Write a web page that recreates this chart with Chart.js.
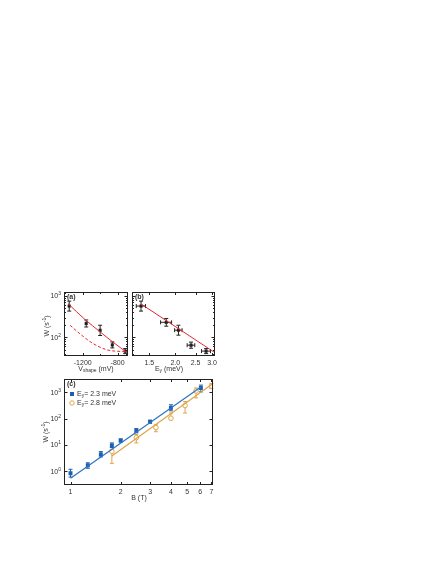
<!DOCTYPE html>
<html>
<head>
<meta charset="utf-8">
<script src="https://cdn.jsdelivr.net/npm/chart.js@4"></script>
<style>
  body { margin: 0; background: #fff; }
  #wrap { position: relative; width: 436px; height: 564px; }
  canvas { position: absolute; left: 0; top: 0; }
</style>
</head>
<body>
<div id="wrap">
  <canvas id="chart-a" width="436" height="564"></canvas>
  <canvas id="chart-b" width="436" height="564"></canvas>
  <canvas id="chart-c" width="436" height="564"></canvas>
</div>
<script>
// panel (a): rate against shape voltage
const vShape = [-1355, -1160, -1000, -860, -712]
const wA = [570, 215, 147, 65, 46]
const wALow = [430, 177, 110, 55, 40]
const wAHigh = [750, 262, 195, 77, 53]
const fitV = [-1367, -1175, -1000, -860, -680]
const fitVW = [650, 270, 135, 78, 41]
const dashV = [-1345, -1230, -1080, -930, -830, -680]
const dashVW = [195, 120, 70, 50, 46, 45]
const vTicks = [-1400, -1200, -1000, -800]
const vLabelled = [-1200, -800]

// panel (b): rate against Ey
const eY = [1.37, 1.81, 2.07, 2.38, 2.81]
const eYLow = [1.30, 1.70, 1.985, 2.28, 2.67]
const eYHigh = [1.44, 1.92, 2.155, 2.48, 2.95]
const wB = [570, 230, 148, 64, 46]
const wBLow = [430, 185, 112, 54, 40]
const wBHigh = [750, 285, 195, 76, 53]
const fitE = [1.37, 3.08]
const fitEW = [640, 43]
const eTicks = [1.5, 2.0, 2.5, 3.0]

// shared W ticks for (a) and (b)
const wTicksAB = [40, 50, 60, 70, 80, 90, 100, 200, 300, 400, 500, 600, 700, 800, 900, 1000]
const wDecadesAB = [100, 1000]
const wExponentsAB = ['2', '3']

// panel (c): rate against B
const b23 = [1.0, 1.27, 1.52, 1.77, 2.0, 2.48, 3.0, 4.0, 6.05]
const w23 = [0.84, 1.68, 4.4, 9.6, 14.8, 35, 77, 260, 1480]
const w23Low = [0.6, 1.3, 3.5, 8, 13, 29, 68, 200, 1050]
const w23High = [1.19, 2.1, 5.6, 12, 17, 42, 87, 340, 1900]
const b28 = [1.77, 2.48, 3.25, 4.0, 4.86, 5.66, 7.0]
const w28 = [5.7, 19, 46, 105, 316, 1140, 1760]
const w28Low = [2.0, 12, 32, 92, 165, 620, 1400]
const w28High = [6.8, 25, 59, 165, 450, 1480, 2200]
const fit23B = [1.0, 6.05]
const fit23W = [0.54, 1600]
const fit28B = [1.77, 7.15]
const fit28W = [3.8, 2200]
const bTicks = [1, 2, 3, 4, 5, 6, 7]
const wTicksC = [1, 10, 100, 1000]
const wExponentsC = ['0', '1', '2', '3']

const RED = '#e3262d'
const BLUE = '#1d5fae'
const BLUE_LINE = '#2b74c2'
const ORANGE = '#e0a449'
const INK = '#222'
const FAMILY = 'Liberation Sans, Arial, sans-serif'
const tickFont = { family: FAMILY, size: 7 }

function areaPadding (area) {
  return { left: area.left - 20, top: area.top, right: 436 - area.right, bottom: 564 - area.bottom - 12 }
}

function drawRich (ctx, parts, x, y, rotate, align) {
  ctx.save()
  ctx.translate(x, y)
  if (rotate) ctx.rotate(-Math.PI / 2)
  ctx.textBaseline = 'middle'
  ctx.textAlign = 'left'
  ctx.fillStyle = '#333'
  const fontOf = (p) => (p.bold ? 'bold ' : '') + ((p.sub || p.sup) ? 5 : 7) + 'px ' + FAMILY
  let total = 0
  for (const p of parts) { ctx.font = fontOf(p); total += ctx.measureText(p.t).width }
  let cx = align === 'left' ? 0 : align === 'right' ? -total : -total / 2
  for (const p of parts) {
    ctx.font = fontOf(p)
    ctx.fillText(p.t, cx, p.sub ? 2 : p.sup ? -2.5 : 0)
    cx += ctx.measureText(p.t).width
  }
  ctx.restore()
}

const framePlugin = {
  id: 'frame',
  beforeDatasetsDraw (chart) {
    const ctx = chart.ctx
    const xs = chart.scales.x
    const ys = chart.scales.y
    chart.data.datasets.forEach((ds) => {
      if (!ds.errLow && !ds.errXLow) return
      ctx.save()
      ctx.strokeStyle = ds.errColor || INK
      ctx.lineWidth = 1
      ds.data.forEach((pt, i) => {
        const px = xs.getPixelForValue(pt.x)
        const py = ys.getPixelForValue(pt.y)
        ctx.beginPath()
        if (ds.errLow) {
          const lo = ys.getPixelForValue(ds.errLow[i])
          const hi = ys.getPixelForValue(ds.errHigh[i])
          ctx.moveTo(px, lo); ctx.lineTo(px, hi)
          ctx.moveTo(px - 2, lo); ctx.lineTo(px + 2, lo)
          ctx.moveTo(px - 2, hi); ctx.lineTo(px + 2, hi)
        }
        if (ds.errXLow) {
          const l = xs.getPixelForValue(ds.errXLow[i])
          const r = xs.getPixelForValue(ds.errXHigh[i])
          ctx.moveTo(l, py); ctx.lineTo(r, py)
          ctx.moveTo(l, py - 2); ctx.lineTo(l, py + 2)
          ctx.moveTo(r, py - 2); ctx.lineTo(r, py + 2)
        }
        ctx.stroke()
      })
      ctx.restore()
    })
  },
  afterDraw (chart, args, opts) {
    const ctx = chart.ctx
    const a = chart.chartArea
    const ys = chart.scales.y
    ctx.save()
    ctx.strokeStyle = INK
    ctx.lineWidth = 1
    ctx.strokeRect(a.left + 0.5, a.top + 0.5, a.right - a.left - 1, a.bottom - a.top - 1)
    ctx.beginPath()
    chart.scales.x.ticks.forEach((t) => {
      const px = Math.round(chart.scales.x.getPixelForValue(t.value)) + 0.5
      const len = t.label ? 3 : 2
      ctx.moveTo(px, a.bottom); ctx.lineTo(px, a.bottom - len)
      ctx.moveTo(px, a.top); ctx.lineTo(px, a.top + len)
    })
    ys.ticks.forEach((t) => {
      const py = Math.round(ys.getPixelForValue(t.value)) + 0.5
      const len = opts.majorY.includes(t.value) ? 3.5 : 2
      ctx.moveTo(a.left, py); ctx.lineTo(a.left + len, py)
      ctx.moveTo(a.right, py); ctx.lineTo(a.right - len, py)
    })
    ctx.stroke()
    ctx.restore()
    // decade labels with raised exponents
    if (opts.exponents) {
      opts.majorY.forEach((v, i) => {
        drawRich(ctx, [{ t: '10' }, { t: opts.exponents[i], sup: true }], a.left - 3, ys.getPixelForValue(v) + 0.5, false, 'right')
      })
    }
    if (opts.yTitle) drawRich(ctx, opts.yTitle, opts.yTitlePos[0], opts.yTitlePos[1], true)
    drawRich(ctx, opts.xTitle, opts.xTitlePos[0], opts.xTitlePos[1], false)
    drawRich(ctx, [{ t: opts.panel, bold: true }], a.left + 3, a.top + 5, false, 'left')
    if (opts.legend) {
      opts.legend.forEach((item, i) => {
        const y = a.top + 15 + i * 9
        const x = a.left + 8
        ctx.save()
        ctx.beginPath()
        if (item.shape === 'rect') {
          ctx.fillStyle = item.color
          ctx.fillRect(x - 2, y - 2, 4, 4)
        } else {
          ctx.strokeStyle = item.color
          ctx.fillStyle = '#fff'
          ctx.arc(x, y, 2.2, 0, Math.PI * 2)
          ctx.fill(); ctx.stroke()
        }
        ctx.restore()
        drawRich(ctx, item.parts, x + 5, y, false, 'left')
      })
    }
  }
}

function logAxis (min, max, ticks, labelFn) {
  return {
    type: 'logarithmic', min, max,
    grid: { display: false, drawTicks: false },
    border: { display: false },
    ticks: { font: tickFont, color: '#333', padding: 3, autoSkip: false, maxRotation: 0, callback: labelFn },
    afterBuildTicks: (s) => { s.ticks = ticks.map((v) => ({ value: v })) }
  }
}

function withFit (axis, isX) {
  axis.afterFit = (s) => { if (isX) s.height = 12; else s.width = 20 }
  return axis
}

function commonOptions (area, scales, frame) {
  return {
    responsive: false,
    animation: false,
    layout: { padding: areaPadding(area) },
    scales,
    plugins: { legend: { display: false }, tooltip: { enabled: false }, frame }
  }
}

const wTitle = [{ t: 'W (s' }, { t: '-1', sup: true }, { t: ')' }]

// (a)
const xA = withFit({
  type: 'linear', min: -1415, max: -680,
  grid: { display: false, drawTicks: false },
  border: { display: false },
  ticks: { font: tickFont, color: '#333', padding: 3, autoSkip: false, maxRotation: 0, callback: (v) => vLabelled.includes(v) ? String(v) : '' },
  afterBuildTicks: (s) => { s.ticks = vTicks.map((v) => ({ value: v })) }
}, true)
new Chart(document.querySelector('#chart-a'), {
  type: 'line',
  data: {
    datasets: [
      { data: fitV.map((v, i) => ({ x: v, y: fitVW[i] })), borderColor: RED, borderWidth: 1, pointRadius: 0, cubicInterpolationMode: 'monotone' },
      { data: dashV.map((v, i) => ({ x: v, y: dashVW[i] })), borderColor: RED, borderWidth: 1, borderDash: [3, 2], pointRadius: 0, cubicInterpolationMode: 'monotone' },
      { data: vShape.map((v, i) => ({ x: v, y: wA[i] })), showLine: false, pointStyle: 'rect', pointRadius: 2.2, backgroundColor: INK, borderColor: INK, borderWidth: 0, errLow: wALow, errHigh: wAHigh }
    ]
  },
  options: commonOptions({ left: 64, top: 292, right: 128, bottom: 356 }, {
    x: xA,
    y: withFit(logAxis(35, 1250, wTicksAB, () => ''), false)
  }, {
    majorY: wDecadesAB,
    exponents: wExponentsAB,
    panel: '(a)',
    xTitle: [{ t: 'V' }, { t: 'shape', sub: true }, { t: ' (mV)' }],
    xTitlePos: [96, 369],
    yTitle: wTitle,
    yTitlePos: [47, 326]
  }),
  plugins: [framePlugin]
})

// (b)
new Chart(document.querySelector('#chart-b'), {
  type: 'line',
  data: {
    datasets: [
      { data: fitE.map((v, i) => ({ x: v, y: fitEW[i] })), borderColor: RED, borderWidth: 1, pointRadius: 0 },
      { data: eY.map((v, i) => ({ x: v, y: wB[i] })), showLine: false, pointStyle: 'rect', pointRadius: 2.2, backgroundColor: INK, borderColor: INK, borderWidth: 0, errLow: wBLow, errHigh: wBHigh, errXLow: eYLow, errXHigh: eYHigh }
    ]
  },
  options: commonOptions({ left: 132, top: 292, right: 215, bottom: 356 }, {
    x: withFit(logAxis(1.24, 3.1, eTicks, (v) => v.toFixed(1)), true),
    y: withFit(logAxis(35, 1250, wTicksAB, () => ''), false)
  }, {
    majorY: wDecadesAB,
    panel: '(b)',
    xTitle: [{ t: 'E' }, { t: 'y', sub: true }, { t: ' (meV)' }],
    xTitlePos: [169, 369]
  }),
  plugins: [framePlugin]
})

// (c)
new Chart(document.querySelector('#chart-c'), {
  type: 'line',
  data: {
    datasets: [
      { data: fit23B.map((v, i) => ({ x: v, y: fit23W[i] })), borderColor: BLUE_LINE, borderWidth: 1.2, pointRadius: 0 },
      { data: fit28B.map((v, i) => ({ x: v, y: fit28W[i] })), borderColor: ORANGE, borderWidth: 1.2, pointRadius: 0 },
      { data: b23.map((v, i) => ({ x: v, y: w23[i] })), showLine: false, pointStyle: 'rect', pointRadius: 2.8, backgroundColor: BLUE, borderColor: BLUE, borderWidth: 0, errLow: w23Low, errHigh: w23High, errColor: BLUE },
      { data: b28.map((v, i) => ({ x: v, y: w28[i] })), showLine: false, pointStyle: 'circle', pointRadius: 2.3, backgroundColor: '#fff', borderColor: ORANGE, borderWidth: 1, errLow: w28Low, errHigh: w28High, errColor: ORANGE }
    ]
  },
  options: commonOptions({ left: 64, top: 379, right: 213, bottom: 485 }, {
    x: withFit(logAxis(0.914, 7.15, bTicks, (v) => String(v)), true),
    y: withFit(logAxis(0.32, 3250, wTicksC, () => ''), false)
  }, {
    majorY: wTicksC,
    exponents: wExponentsC,
    panel: '(c)',
    xTitle: [{ t: 'B (T)' }],
    xTitlePos: [139, 498],
    yTitle: wTitle,
    yTitlePos: [46, 432],
    legend: [
      { shape: 'rect', color: BLUE, parts: [{ t: 'E' }, { t: 'y', sub: true }, { t: '= 2.3 meV' }] },
      { shape: 'circle', color: ORANGE, parts: [{ t: 'E' }, { t: 'y', sub: true }, { t: '= 2.8 meV' }] }
    ]
  }),
  plugins: [framePlugin]
})
</script>
</body>
</html>
